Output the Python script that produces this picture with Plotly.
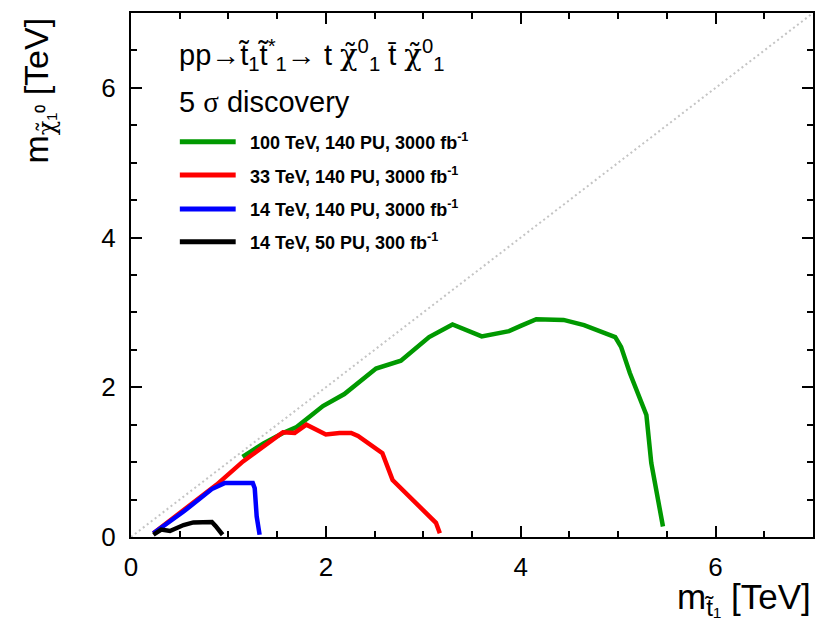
import plotly.graph_objects as go

# Discovery reach contours: stop mass (x) vs neutralino mass (y), in TeV
green_x = [1.145, 1.36, 1.56, 1.70, 1.97, 2.19, 2.515, 2.77, 3.06, 3.30, 3.60, 3.88, 4.00, 4.16, 4.44, 4.65, 4.97, 5.03, 5.12, 5.29, 5.34, 5.46]
green_y = [1.07, 1.25, 1.39, 1.47, 1.75, 1.91, 2.25, 2.355, 2.67, 2.84, 2.68, 2.75, 2.82, 2.91, 2.90, 2.83, 2.67, 2.54, 2.19, 1.63, 0.99, 0.14]

red_x = [0.23, 0.54, 0.88, 1.15, 1.56, 1.68, 1.80, 2.00, 2.14, 2.26, 2.33, 2.58, 2.685, 3.13, 3.17]
red_y = [0.05, 0.36, 0.70, 1.01, 1.40, 1.39, 1.50, 1.37, 1.39, 1.39, 1.35, 1.12, 0.76, 0.19, 0.05]

blue_x = [0.23, 0.54, 0.83, 0.96, 1.25, 1.27, 1.29, 1.32]
blue_y = [0.05, 0.34, 0.64, 0.72, 0.72, 0.65, 0.275, 0.03]

black_x = [0.23, 0.31, 0.40, 0.54, 0.64, 0.74, 0.83, 0.87, 0.94]
black_y = [0.03, 0.10, 0.08, 0.16, 0.195, 0.19, 0.20, 0.145, 0.03]

diag = [0, 7]

labels = [
    "100 TeV, 140 PU, 3000 fb<sup>-1</sup>",
    "33 TeV, 140 PU, 3000 fb<sup>-1</sup>",
    "14 TeV, 140 PU, 3000 fb<sup>-1</sup>",
    "14 TeV, 50 PU, 300 fb<sup>-1</sup>",
]
colors = ["#009900", "#ff0000", "#0000ff", "#000000"]
series = [(green_x, green_y), (red_x, red_y), (blue_x, blue_y), (black_x, black_y)]

FONT = "Liberation Sans, Arial, Helvetica, sans-serif"
# Greek symbols set in a serif face; chi carries a combining tilde
CHI = '<span style="font-family:DejaVu Serif">χ\u0303</span>'
SIGMA = '<span style="font-family:Liberation Serif">σ</span>'

fig = go.Figure()

fig.add_trace(go.Scatter(x=diag, y=diag, mode="lines",
                         line=dict(color="#c4c4c4", width=2, dash="2px,3px"),
                         showlegend=False, hoverinfo="skip"))

for (xs, ys), c, lab in zip(series, colors, labels):
    fig.add_trace(go.Scatter(x=xs, y=ys, mode="lines", name=lab,
                             line=dict(color=c, width=4.5), showlegend=False))

# hand-drawn legend block (line sample + bold label)
legend_rows = [0.7544, 0.6908, 0.626, 0.5635]
for row_y, c, lab in zip(legend_rows, colors, labels):
    fig.add_shape(type="line", xref="paper", yref="paper",
                  x0=0.0716, x1=0.1535, y0=row_y, y1=row_y,
                  line=dict(color=c, width=5))
    fig.add_annotation(xref="paper", yref="paper", x=0.171, y=row_y,
                       xanchor="left", yanchor="middle", showarrow=False,
                       text="<b>" + lab + "</b>",
                       font=dict(family=FONT, size=18, color="black"))

fig.add_annotation(xref="paper", yref="paper", x=0.0668, y=0.92,
                   xanchor="left", yanchor="middle", showarrow=False,
                   text="pp→t\u0303<sub>1</sub>t\u0303<sup>*</sup><sub>1</sub>→ t " + CHI
                        + "<sup>0</sup><sub>1</sub> t\u0304 " + CHI + "<sup>0</sup><sub>1</sub>",
                   font=dict(family=FONT, size=29, color="black"))
fig.add_annotation(xref="paper", yref="paper", x=0.0668, y=0.830,
                   xanchor="left", yanchor="middle", showarrow=False,
                   text="5 " + SIGMA + " discovery",
                   font=dict(family=FONT, size=29, color="black"))

# axis titles
fig.add_annotation(xref="paper", yref="paper", x=1.0, y=-0.118,
                   xanchor="right", yanchor="middle", showarrow=False,
                   text="m<sub>t\u0303₁</sub> [TeV]",
                   font=dict(family=FONT, size=35, color="black"))
fig.add_annotation(xref="paper", yref="paper", x=-0.135, y=0.995,
                   xanchor="center", yanchor="top", showarrow=False, textangle=-90,
                   text="m<sub>" + CHI + "₁⁰</sub> [TeV]",
                   font=dict(family=FONT, size=34, color="black"))

axis_common = dict(
    showgrid=False, zeroline=False, showline=True, linecolor="black", linewidth=2,
    mirror="allticks", ticks="inside", ticklen=11, tickwidth=1.5, tickcolor="black",
    tickfont=dict(family=FONT, size=26, color="black"),
    minor=dict(dtick=0.5, ticks="inside", ticklen=6, tickwidth=1.5, tickcolor="black"),
)

fig.update_xaxes(range=[0, 7], tickvals=[0, 2, 4, 6], ticklabelstandoff=6, **axis_common)
fig.update_yaxes(range=[0, 7], tickvals=[0, 2, 4, 6], ticklabelstandoff=8, **axis_common)

fig.update_layout(
    width=817, height=625,
    margin=dict(l=131, r=2, t=13, b=88),
    plot_bgcolor="white", paper_bgcolor="white",
    font=dict(family=FONT),
)

fig.write_html("out.html")
